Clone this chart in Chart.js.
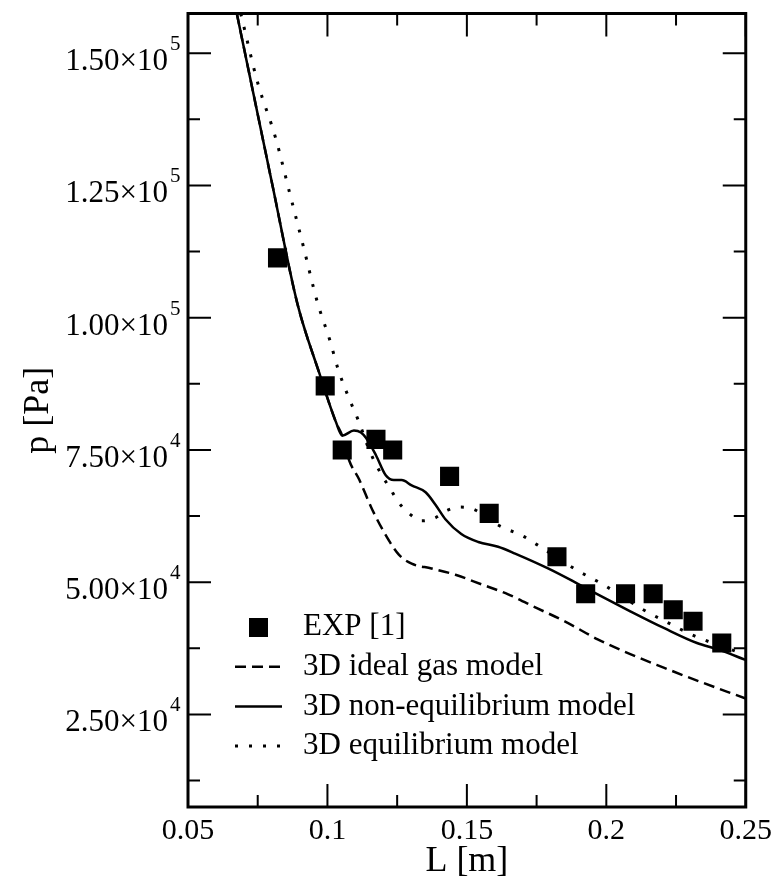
<!DOCTYPE html>
<html>
<head>
<meta charset="utf-8">
<script src="https://cdn.jsdelivr.net/npm/chart.js@4.4.1/dist/chart.umd.min.js"></script>
<style>
  html, body { margin: 0; padding: 0; background: #fff; }
  #wrap { width: 778px; height: 888px; position: relative; }
</style>
</head>
<body>
<div id="wrap"><canvas id="pressureChart"></canvas></div>
<script>
// measured points, EXP [1]
var expL = [0.0821, 0.0992, 0.1053, 0.1174, 0.1234, 0.1438, 0.158, 0.1823, 0.1926, 0.2069, 0.2168, 0.224, 0.2311, 0.2414];
var expP = [111300, 87100, 75000, 77000, 75000, 70000, 63000, 54800, 47800, 47800, 47800, 44800, 42600, 38500];

// 3D ideal gas model
var idealL = [0.0675, 0.0803, 0.0892, 0.0971, 0.1031, 0.1053, 0.1078, 0.1113, 0.116, 0.1209, 0.1256, 0.1302, 0.1373, 0.1459, 0.1552, 0.1648, 0.1755, 0.1851, 0.1969, 0.2086, 0.2208, 0.23, 0.25];
var idealP = [157500, 125000, 102700, 89500, 80200, 77700, 73000, 69500, 63800, 58900, 55200, 53500, 52600, 51400, 49600, 47700, 45000, 42600, 39200, 36400, 33800, 31900, 28000];

// 3D non-equilibrium model
var noneqL = [0.0675, 0.0803, 0.0892, 0.0971, 0.1031, 0.1053, 0.1095, 0.112, 0.1138, 0.1174, 0.1209, 0.1238, 0.1266, 0.1302, 0.1352, 0.1388, 0.1423, 0.148, 0.1541, 0.1612, 0.1673, 0.1791, 0.1898, 0.1969, 0.2086, 0.2208, 0.2325, 0.2397, 0.25];
var noneqP = [157500, 125000, 102700, 89500, 80200, 77700, 78650, 78300, 77300, 74000, 70200, 69300, 69300, 68300, 67000, 64600, 61900, 59100, 57600, 56700, 55400, 52600, 49700, 47700, 44500, 41300, 38500, 37350, 35300];

// 3D equilibrium model
var equilL = [0.0689, 0.075, 0.0814, 0.0864, 0.0914, 0.0963, 0.101, 0.1038, 0.1074, 0.1113, 0.1149, 0.1195, 0.1224, 0.1252, 0.1295, 0.1338, 0.1384, 0.1431, 0.1477, 0.1523, 0.1612, 0.1705, 0.1751, 0.189, 0.1987, 0.2129, 0.2226, 0.2318, 0.2461, 0.25];
var equilP = [157500, 144400, 134000, 123700, 113400, 103100, 95500, 90300, 85200, 80300, 75100, 70200, 67800, 65300, 62900, 61600, 62100, 63600, 64200, 63800, 60800, 58600, 57100, 52400, 49600, 44900, 42200, 39800, 37000, 36200];

// axis ticks
var xTicks = [0.05, 0.1, 0.15, 0.2, 0.25];
var xMinor = [0.075, 0.125, 0.175, 0.225];
var yTicks = [25000, 50000, 75000, 100000, 125000, 150000];
var yMinor = [12500, 37500, 62500, 87500, 112500, 137500];

function pairs(xs, ys) {
    return xs.map(function (x, i) { return { x: x, y: ys[i] }; });
}

Chart.defaults.font.family = "'Liberation Serif', 'Times New Roman', serif";
Chart.defaults.color = '#000';

// frame, inward ticks and y labels with exponents
var frameTicks = {
    id: 'frameTicks',
    afterDatasetsDraw: function (chart) {
        var ctx = chart.ctx, a = chart.chartArea;
        var xs = chart.scales.x, ys = chart.scales.y;
        ctx.save();
        ctx.strokeStyle = '#000';
        ctx.lineWidth = 2;
        ctx.beginPath();
        function xTick(v, len) {
            var px = xs.getPixelForValue(v);
            ctx.moveTo(px, a.bottom); ctx.lineTo(px, a.bottom - len);
            ctx.moveTo(px, a.top); ctx.lineTo(px, a.top + len);
        }
        function yTick(v, len) {
            var py = ys.getPixelForValue(v);
            ctx.moveTo(a.left, py); ctx.lineTo(a.left + len, py);
            ctx.moveTo(a.right, py); ctx.lineTo(a.right - len, py);
        }
        xTicks.forEach(function (v) { xTick(v, 23); });
        xMinor.forEach(function (v) { xTick(v, 12); });
        yTicks.forEach(function (v) { yTick(v, 23); });
        yMinor.forEach(function (v) { yTick(v, 12); });
        ctx.stroke();
        ctx.lineWidth = 3;
        ctx.strokeRect(a.left, a.top, a.right - a.left, a.bottom - a.top);

        ctx.fillStyle = '#000';
        ctx.textBaseline = 'alphabetic';
        yTicks.forEach(function (v) {
            var py = ys.getPixelForValue(v);
            var e = Math.floor(Math.log10(v));
            var m = (v / Math.pow(10, e)).toFixed(2);
            ctx.font = "31px 'Liberation Serif', serif";
            ctx.textAlign = 'right';
            ctx.fillText(m + '\u00d710', a.left - 20, py + 17);
            ctx.font = "21px 'Liberation Serif', serif";
            ctx.textAlign = 'left';
            ctx.fillText(String(e), a.left - 18, py - 3);
        });
        ctx.restore();
    }
};

// legend in the lower left of the plot
var innerLegend = {
    id: 'innerLegend',
    afterDraw: function (chart) {
        var ctx = chart.ctx, a = chart.chartArea;
        var x0 = a.left + 47, x1 = a.left + 94, tx = a.left + 115;
        ctx.save();
        chart.data.datasets.forEach(function (ds, i) {
            var y = a.bottom - 181 + i * 39.7;
            ctx.strokeStyle = '#000';
            ctx.fillStyle = '#000';
            if (ds.showLine === false) {
                ctx.fillRect((x0 + x1) / 2 - 9.5, y - 8, 19, 19);
            } else {
                ctx.lineWidth = ds.borderWidth;
                ctx.setLineDash(ds.borderDash || []);
                ctx.beginPath();
                ctx.moveTo(x0, y + 1);
                ctx.lineTo(x1, y + 1);
                ctx.stroke();
                ctx.setLineDash([]);
            }
            ctx.font = "31px 'Liberation Serif', serif";
            ctx.textAlign = 'left';
            ctx.textBaseline = 'middle';
            ctx.fillText(ds.label, tx, y + 1);
        });
        ctx.restore();
    }
};

new Chart(document.getElementById('pressureChart'), {
    type: 'line',
    data: {
        datasets: [{
            label: 'EXP [1]',
            data: pairs(expL, expP),
            showLine: false,
            pointStyle: 'rect',
            pointRadius: 13.5,
            pointBackgroundColor: '#000',
            pointBorderWidth: 0
        }, {
            label: '3D ideal gas model',
            data: pairs(idealL, idealP),
            borderColor: '#000',
            borderWidth: 2.5,
            borderDash: [11, 6],
            pointRadius: 0,
            cubicInterpolationMode: 'monotone'
        }, {
            label: '3D non-equilibrium model',
            data: pairs(noneqL, noneqP),
            borderColor: '#000',
            borderWidth: 2.5,
            pointRadius: 0,
            cubicInterpolationMode: 'monotone'
        }, {
            label: '3D equilibrium model',
            data: pairs(equilL, equilP),
            borderColor: '#000',
            borderWidth: 3,
            borderDash: [3, 11],
            pointRadius: 0,
            cubicInterpolationMode: 'monotone'
        }]
    },
    options: {
        responsive: true,
        maintainAspectRatio: false,
        animation: false,
        layout: { padding: { left: 0, right: 29, top: 8, bottom: 0 } },
        plugins: { legend: { display: false }, tooltip: { enabled: false } },
        scales: {
            x: {
                type: 'linear',
                min: 0.05,
                max: 0.25,
                grid: { display: false, drawTicks: false },
                border: { display: false },
                afterBuildTicks: function (scale) {
                    scale.ticks = xTicks.map(function (v) { return { value: v }; });
                },
                afterFit: function (scale) { scale.height = 81; },
                ticks: {
                    padding: 6,
                    maxRotation: 0,
                    font: { size: 30 },
                    callback: function (v) { return String(v); }
                },
                title: { display: true, text: 'L [m]', font: { size: 36 }, padding: { top: 0, bottom: 5 } }
            },
            y: {
                min: 7500,
                max: 157500,
                grid: { display: false, drawTicks: false },
                border: { display: false },
                ticks: { display: false },
                afterFit: function (scale) { scale.width = 188; },
                title: { display: true, text: 'p [Pa]', font: { size: 36 }, padding: { top: 17, bottom: 0 } }
            }
        }
    },
    plugins: [frameTicks, innerLegend]
});
</script>
</body>
</html>
